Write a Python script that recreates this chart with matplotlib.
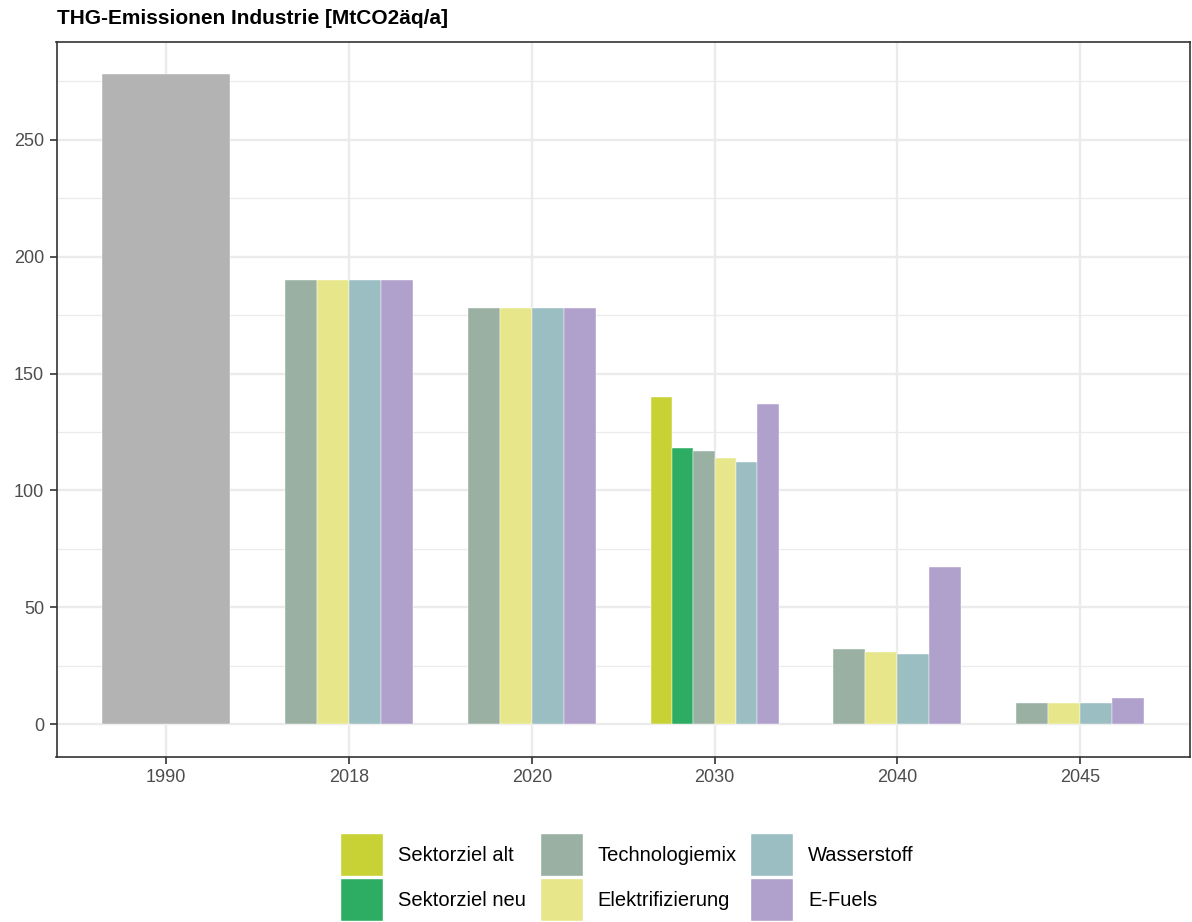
import numpy as np
import matplotlib.pyplot as plt
from matplotlib.patches import Patch

plt.rcParams['font.family'] = ['Liberation Sans', 'DejaVu Sans']

years = ['1990', '2018', '2020', '2030', '2040', '2045']
nan = np.nan

# values per scenario (MtCO2äq/a), nan where the scenario has no bar
referenz = [278, nan, nan, nan, nan, nan]
sektorziel_alt = [nan, nan, nan, 140, nan, nan]
sektorziel_neu = [nan, nan, nan, 118, nan, nan]
technologiemix = [nan, 190, 178, 117, 32, 9]
elektrifizierung = [nan, 190, 178, 114, 31, 9]
wasserstoff = [nan, 190, 178, 112, 30, 9]
efuels = [nan, 190, 178, 137, 67, 11]

series = [
    ('1990', referenz, '#B3B3B3'),
    ('Sektorziel alt', sektorziel_alt, '#C8D235'),
    ('Sektorziel neu', sektorziel_neu, '#2DAD63'),
    ('Technologiemix', technologiemix, '#99B0A3'),
    ('Elektrifizierung', elektrifizierung, '#E8E68A'),
    ('Wasserstoff', wasserstoff, '#9BBEC3'),
    ('E-Fuels', efuels, '#B0A0CC'),
]

fig = plt.figure(figsize=(11.92, 9.22), dpi=100)
ax = fig.add_axes([56.5 / 1192, 1 - 756.5 / 922, 1133.5 / 1192, 714.5 / 922])

group_w = 0.7
for i in range(len(years)):
    present = [(name, vals[i], col) for name, vals, col in series if not np.isnan(vals[i])]
    n = len(present)
    w = group_w / n
    for j, (name, v, col) in enumerate(present):
        x = i - group_w / 2 + w * (j + 0.5)
        ax.bar(x, v, width=w, color=col, edgecolor='white', linewidth=0.3, zorder=3)

ax.set_xlim(-0.6, len(years) - 0.4)
ax.set_ylim(-13.9, 291.9)
ax.set_xticks(range(len(years)))
ax.set_xticklabels(years)
ax.set_yticks([0, 50, 100, 150, 200, 250])
ax.set_yticks([25, 75, 125, 175, 225, 275], minor=True)

ax.grid(True, which='major', color='#EBEBEB', linewidth=1.7, zorder=0)
ax.grid(True, which='minor', axis='y', color='#EBEBEB', linewidth=0.9, zorder=0)
ax.set_axisbelow(True)
ax.tick_params(which='major', length=5, width=1.2, color='#333333',
               labelsize=13, labelcolor='#4D4D4D', pad=4)
ax.tick_params(which='minor', length=0)
for s in ax.spines.values():
    s.set_color('#333333')
    s.set_linewidth(1.2)

fig.text(57 / 1192, 1 - 19 / 922, 'THG-Emissionen Industrie [MtCO2äq/a]',
         fontsize=15, fontweight='bold', va='center', ha='left')

handles = [Patch(facecolor=col, edgecolor='white', label=name) for name, vals, col in series[1:]]
fig.legend(handles=handles, ncol=3, loc='upper left', bbox_to_anchor=(340 / 1192, 1 - 833 / 922),
           frameon=False, fontsize=14.5, handlelength=2.14, handleheight=2.92,
           handletextpad=0.72, columnspacing=0.7, labelspacing=0.1, borderpad=0,
           borderaxespad=0)

fig.savefig('out.png', dpi=100)
